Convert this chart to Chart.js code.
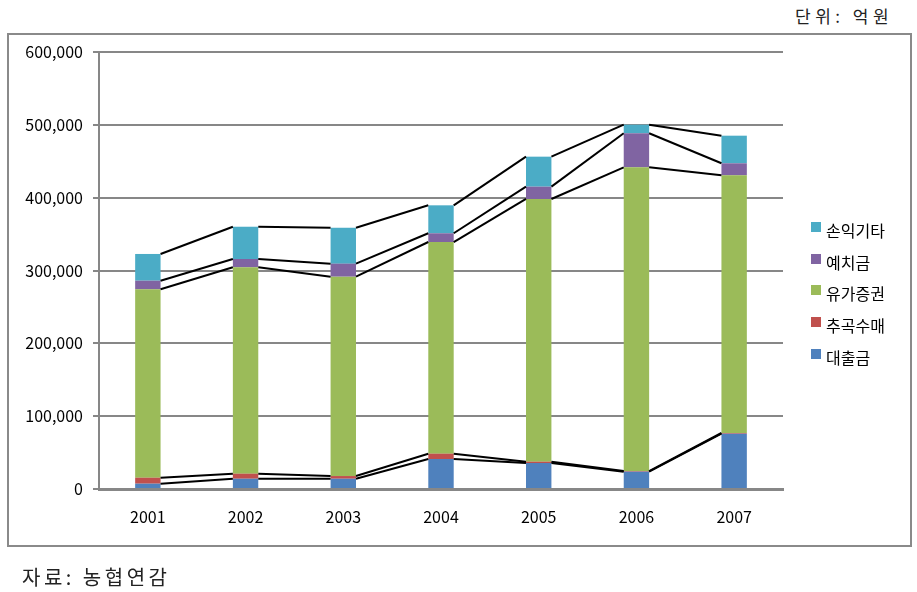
<!DOCTYPE html>
<html>
<head>
<meta charset="utf-8">
<script src="https://cdn.jsdelivr.net/npm/chart.js@4.4.1/dist/chart.umd.min.js"></script>
<style>
  body { margin: 0; background: #fff; width: 917px; height: 592px; position: relative; overflow: hidden; }
  #frame { position: absolute; left: 7px; top: 33px; width: 901px; height: 510px; border: 2px solid #8a8a8a; }
  #wrap { position: absolute; left: 0; top: 0; width: 917px; height: 592px; }
  .note { position: absolute; font-family: "Noto Sans CJK KR", sans-serif; color: #222; white-space: nowrap; }
  #unit { left: 795px; top: 3px; font-size: 17px; letter-spacing: 4.5px; }
  #source { left: 22px; top: 562px; font-size: 20px; letter-spacing: 3.5px; }
  #legend { position: absolute; left: 811px; top: 220px; font-family: "Noto Sans CJK KR", sans-serif; font-size: 16px; color: #000; }
  #legend div { height: 31.7px; position: relative; padding-left: 15px; line-height: 20px; white-space: nowrap; }
  #legend span { position: absolute; left: 0; top: 2px; width: 10px; height: 10px; }
</style>
</head>
<body>
<div id="unit" class="note">단위: 억원</div>
<div id="frame"></div>
<div id="wrap"><canvas id="chart" width="917" height="592"></canvas></div>
<div id="legend"></div>
<div id="source" class="note">자료: 농협연감</div>
<script>
// 연도
const years = ['2001', '2002', '2003', '2004', '2005', '2006', '2007'];
// 단위: 억원
const loans = [7300, 14100, 14100, 41200, 35700, 23800, 75900];          // 대출금
const riceBuying = [8200, 6900, 3700, 7300, 1800, 900, 1000];            // 추곡수매
const securities = [258700, 283400, 273700, 290600, 360700, 417000, 353800]; // 유가증권
const deposits = [11800, 11400, 17900, 12000, 16900, 46700, 16500];      // 예치금
const otherAssets = [36700, 44300, 49400, 38400, 41200, 11800, 37900];   // 손익기타
const yTicks = [0, 100000, 200000, 300000, 400000, 500000, 600000];

const seriesNames = ['대출금', '추곡수매', '유가증권', '예치금', '손익기타'];
const seriesColors = ['#4f81bd', '#c0504d', '#9bbb59', '#8064a2', '#4bacc6'];
const seriesData = [loans, riceBuying, securities, deposits, otherAssets];

const gridGray = '#878787';
const tickFont = { family: '"Noto Sans CJK KR", sans-serif', size: 16 };

// Excel 계열선: 인접 막대의 같은 계열 윗부분을 이어준다
const seriesLines = {
    id: 'seriesLines',
    afterDatasetsDraw(chart) {
        const ctx = chart.ctx;
        ctx.save();
        ctx.strokeStyle = '#000';
        ctx.lineWidth = 2;
        chart.data.datasets.forEach((ds, d) => {
            const bars = chart.getDatasetMeta(d).data;
            for (let i = 0; i < bars.length - 1; i++) {
                const a = bars[i], b = bars[i + 1];
                ctx.beginPath();
                ctx.moveTo(a.x + a.width / 2, a.y);
                ctx.lineTo(b.x - b.width / 2, b.y);
                ctx.stroke();
            }
        });
        ctx.restore();
    }
};

const chart = new Chart(document.getElementById('chart'), {
    type: 'bar',
    data: {
        labels: years,
        datasets: seriesNames.map((name, i) => ({
            label: name,
            data: seriesData[i],
            backgroundColor: seriesColors[i],
            borderWidth: 0,
            categoryPercentage: 1,
            barPercentage: 0.26
        }))
    },
    options: {
        responsive: false,
        animation: false,
        layout: { padding: { left: 0, right: 134, top: 52, bottom: 0 } },
        plugins: { legend: { display: false }, tooltip: { enabled: false } },
        scales: {
            x: {
                stacked: true,
                grid: { display: false, drawTicks: false },
                border: { color: gridGray, width: 3 },
                ticks: { color: '#000', font: tickFont, padding: 18 },
                afterFit: s => { s.height = 103; }
            },
            y: {
                stacked: true,
                min: 0,
                max: 600000,
                afterBuildTicks: s => { s.ticks = yTicks.map(v => ({ value: v })); },
                grid: { color: gridGray, lineWidth: 2, tickLength: 6 },
                border: { color: gridGray, width: 2 },
                ticks: {
                    color: '#000',
                    font: tickFont,
                    padding: 10,
                    callback: v => v.toLocaleString('en-US')
                },
                afterFit: s => { s.width = 99; }
            }
        }
    },
    plugins: [seriesLines]
});

// 범례 (역순)
const legendBox = document.getElementById('legend');
seriesNames.slice().reverse().forEach((name, k) => {
    const i = seriesNames.length - 1 - k;
    const row = document.createElement('div');
    const sw = document.createElement('span');
    sw.style.background = seriesColors[i];
    row.appendChild(sw);
    row.appendChild(document.createTextNode(name));
    legendBox.appendChild(row);
});
</script>
</body>
</html>
